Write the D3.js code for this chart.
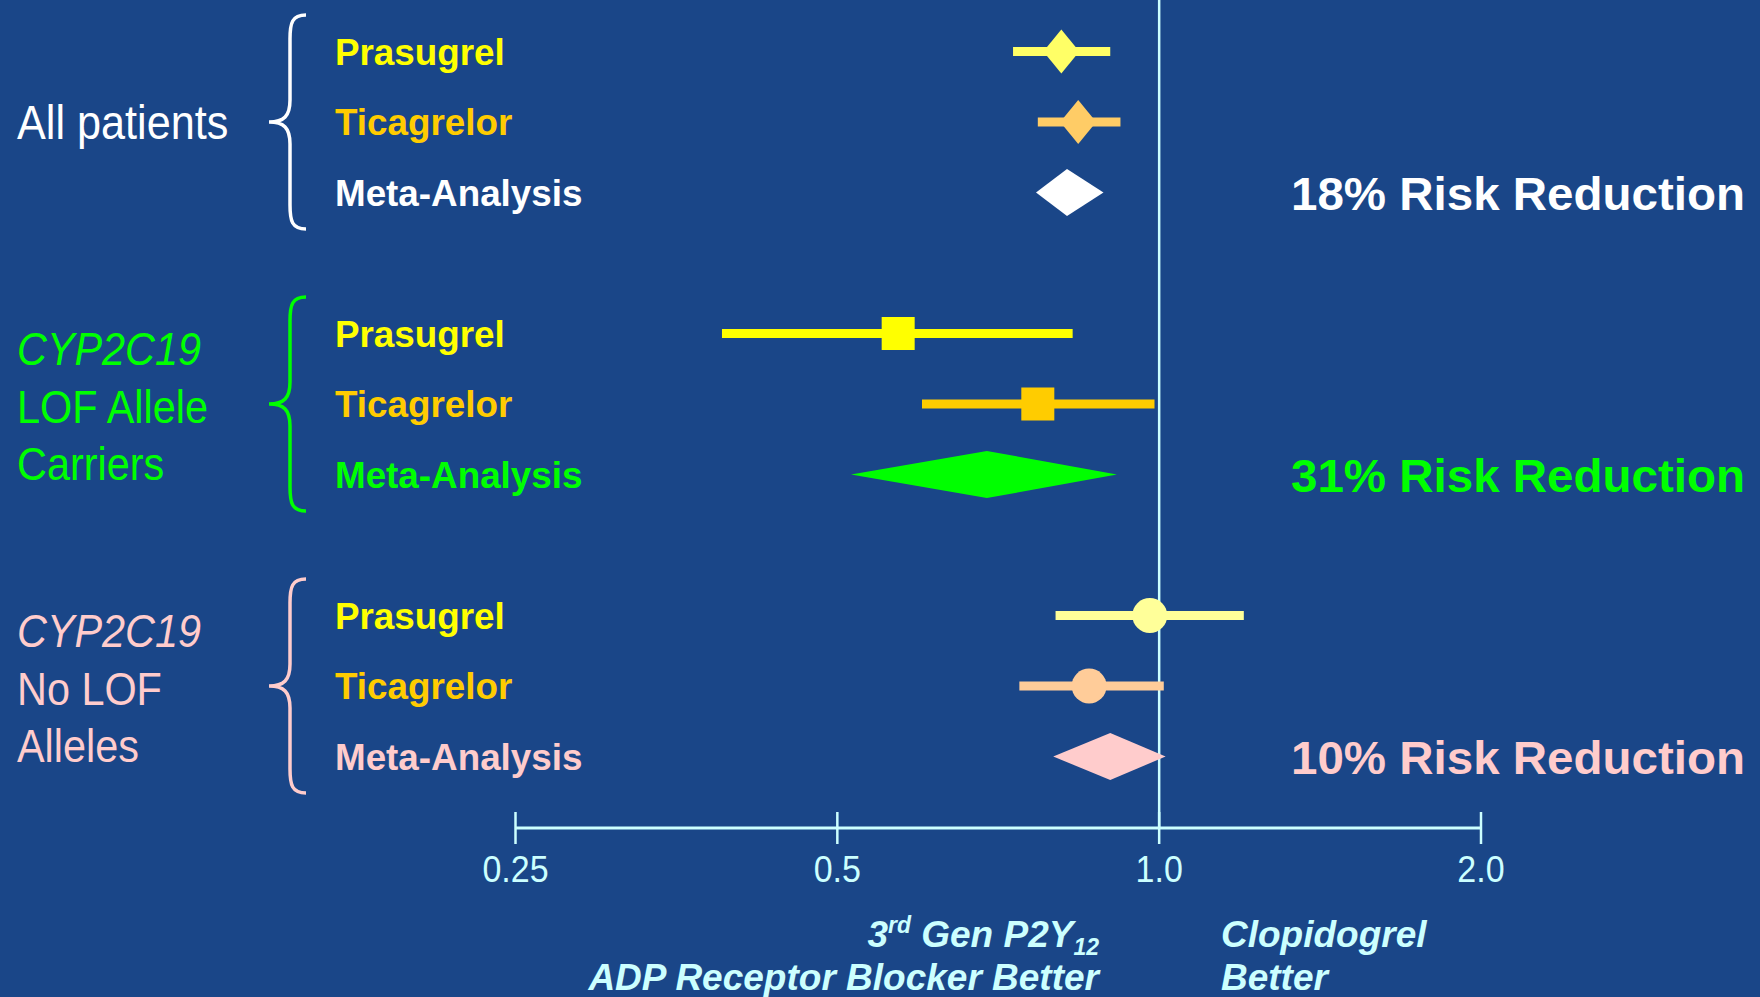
<!DOCTYPE html>
<html><head><meta charset="utf-8">
<script src="https://cdn.jsdelivr.net/npm/d3@7"></script>
<style>html,body{margin:0;padding:0;background:#1a4688;}svg{display:block;}</style>
</head><body>
<script>
// ---- data ----
const groupLabels = [["All patients"], ["CYP2C19", "LOF Allele", "Carriers"], ["CYP2C19", "No LOF", "Alleles"]];
const groupColors = ["#ffffff", "#00ff00", "#ffcccc"];
const rowLabels = ["Prasugrel", "Ticagrelor", "Meta-Analysis"];
const rowLabelColors = ["#ffff00", "#ffcc00", null];
const estimates = [[0.81, 0.84, 0.82], [0.57, 0.77, 0.69], [0.98, 0.86, 0.90]];
const lowerCI = [[0.73, 0.77, 0.767], [0.39, 0.60, 0.515], [0.80, 0.74, 0.796]];
const upperCI = [[0.90, 0.92, 0.887], [0.83, 0.99, 0.913], [1.20, 1.01, 1.014]];
const markerColors = [["#ffff66", "#ffcc66", "#ffffff"], ["#ffff00", "#ffcc00", "#00ff00"], ["#ffff99", "#ffcc99", "#ffcccc"]];
const markerShapes = ["diamond", "square", "circle"];
const riskReduction = ["18% Risk Reduction", "31% Risk Reduction", "10% Risk Reduction"];
const tickValues = [0.25, 0.5, 1.0, 2.0];
const tickLabels = ["0.25", "0.5", "1.0", "2.0"];

// ---- layout ----
const W = 1760, H = 997;
const svg = d3.select("body").append("svg").attr("width", W).attr("height", H);
svg.append("rect").attr("width", W).attr("height", H).attr("fill", "#1a4688");

const x = d3.scaleLog().base(2).domain([0.25, 2.0]).range([515.5, 1481]);
const y = d3.scaleLinear().domain([0, 10]).range([51.5, 756.5]);
const slot = (g, r) => g * 4 + r;
const axisY = 828;
const light = "#ccffff";
const bf = "Liberation Sans, Arial, sans-serif";

// reference line at 1.0
svg.append("line").attr("x1", x(1)).attr("x2", x(1)).attr("y1", 0).attr("y2", axisY)
  .attr("stroke", light).attr("stroke-width", 2.5);

// axis
svg.append("line").attr("x1", x(0.25)).attr("x2", x(2)).attr("y1", axisY).attr("y2", axisY)
  .attr("stroke", light).attr("stroke-width", 3);
const ax = svg.append("g");
tickValues.forEach((v, i) => {
  ax.append("line").attr("x1", x(v)).attr("x2", x(v)).attr("y1", axisY - 16).attr("y2", axisY + 16)
    .attr("stroke", light).attr("stroke-width", 2.5);
  ax.append("text").attr("transform", `translate(${x(v)},882) scale(0.92,1)`).attr("text-anchor", "middle")
    .attr("font-family", bf).attr("font-size", 37)
    .attr("fill", light).text(tickLabels[i]);
});

// bottom annotations
const fs = 37;
const t1 = svg.append("text").attr("x", 1099).attr("y", 947).attr("text-anchor", "end")
  .attr("font-family", bf).attr("font-size", fs).attr("font-weight", "bold").attr("font-style", "italic").attr("fill", light);
t1.append("tspan").text("3");
t1.append("tspan").attr("font-size", 23).attr("dy", -14).text("rd");
t1.append("tspan").attr("dy", 14).text(" Gen P2Y");
t1.append("tspan").attr("font-size", 23).attr("dy", 8).text("12");
svg.append("text").attr("x", 1099).attr("y", 990).attr("text-anchor", "end")
  .attr("font-family", bf).attr("font-size", fs).attr("font-weight", "bold").attr("font-style", "italic")
  .attr("fill", light).text("ADP Receptor Blocker Better");
svg.append("text").attr("x", 1221).attr("y", 947)
  .attr("font-family", bf).attr("font-size", fs).attr("font-weight", "bold").attr("font-style", "italic")
  .attr("fill", light).text("Clopidogrel");
svg.append("text").attr("x", 1221).attr("y", 990)
  .attr("font-family", bf).attr("font-size", fs).attr("font-weight", "bold").attr("font-style", "italic")
  .attr("fill", light).text("Better");

// groups
groupLabels.forEach((lines, g) => {
  const col = groupColors[g];
  const midY = y(slot(g, 1));
  const n = lines.length;
  lines.forEach((ln, k) => {
    const by = midY + (n === 1 ? 16.5 : 18.5) + (k - (n - 1) / 2) * 57.5;
    svg.append("text").attr("transform", `translate(17,${by}) scale(0.9,1)`)
      .attr("font-family", bf).attr("font-size", n === 1 ? 48 : 46)
      .attr("font-style", ln === "CYP2C19" ? "italic" : "normal")
      .attr("fill", col).text(ln);
  });
  // brace
  const top = midY - 107, bot = midY + 107, sx = 290, ex = 306, tx = 269;
  const p = `M${ex},${top} C${sx + 2},${top} ${sx},${top + 8} ${sx},${top + 24} L${sx},${midY - 22} C${sx},${midY - 6} ${sx - 6},${midY} ${tx},${midY} C${sx - 6},${midY} ${sx},${midY + 6} ${sx},${midY + 22} L${sx},${bot - 24} C${sx},${bot - 8} ${sx + 2},${bot} ${ex},${bot}`;
  svg.append("path").attr("d", p).attr("fill", "none").attr("stroke", col).attr("stroke-width", 3.5);

  // rows
  rowLabels.forEach((lab, r) => {
    const ry = y(slot(g, r));
    svg.append("text").attr("x", 335).attr("y", ry + 13)
      .attr("font-family", bf).attr("font-size", 36.8).attr("font-weight", "bold")
      .attr("fill", rowLabelColors[r] || col).text(lab);
    const c = markerColors[g][r];
    const est = estimates[g][r], lo = lowerCI[g][r], hi = upperCI[g][r];
    if (r < 2) {
      svg.append("line").attr("x1", x(lo)).attr("x2", x(hi)).attr("y1", ry).attr("y2", ry)
        .attr("stroke", c).attr("stroke-width", 9);
      const cx = x(est);
      const shape = markerShapes[g];
      if (shape === "diamond") {
        svg.append("path").attr("d", `M${cx},${ry - 22} L${cx + 18},${ry} L${cx},${ry + 22} L${cx - 18},${ry} Z`).attr("fill", c);
      } else if (shape === "square") {
        svg.append("rect").attr("x", cx - 16.5).attr("y", ry - 16.5).attr("width", 33).attr("height", 33).attr("fill", c);
      } else {
        svg.append("circle").attr("cx", cx).attr("cy", ry).attr("r", 17.5).attr("fill", c);
      }
    } else {
      svg.append("path").attr("d", `M${x(lo)},${ry} L${x(est)},${ry - 23.5} L${x(hi)},${ry} L${x(est)},${ry + 23.5} Z`).attr("fill", c);
      svg.append("text").attr("x", 1291).attr("y", ry + 17.5)
        .attr("font-family", bf).attr("font-size", 47).attr("font-weight", "bold")
        .attr("textLength", 454).attr("lengthAdjust", "spacingAndGlyphs")
        .attr("fill", col).text(riskReduction[g]);
    }
  });
});
</script>
</body></html>
